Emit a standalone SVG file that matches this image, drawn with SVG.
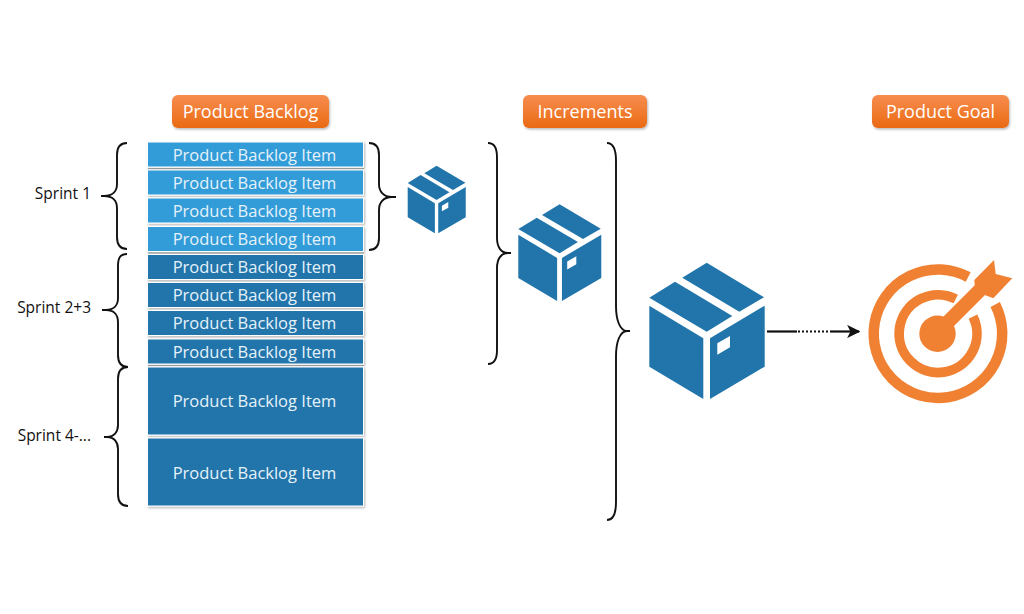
<svg xmlns="http://www.w3.org/2000/svg" width="1024" height="614" viewBox="0 0 1024 614">
<style>
.btn{stroke:none;fill:url(#orange);filter:url(#soft)}
.btxt{font:18px "Open Sans","Noto Sans",sans-serif;fill:#fff;text-anchor:middle}
.item{stroke:#fff;stroke-width:1;filter:url(#soft)}
.light{fill:#329cd8}
.dark{fill:#2175aa}
.itxt{font:16.500px "Open Sans","Noto Sans",sans-serif;fill:#e6f2fa;text-anchor:middle}
.lbl{font:15.500px "Open Sans","Noto Sans",sans-serif;fill:#111;text-anchor:end}
.brace{fill:none;stroke:#111;stroke-width:1.900}
.line{fill:none;stroke:#111;stroke-width:2.200}
.dot{fill:none;stroke:#111;stroke-width:2.200;stroke-dasharray:2 2}
.edge{fill:none;stroke:#9a9a9a;stroke-width:1.200}
.ring{fill:none;stroke:#f08133}
.tg{fill:#f08133}
</style>
<defs>
<linearGradient id="orange" x1="0" y1="0" x2="0" y2="1"><stop offset="0" stop-color="#f78d4f"/><stop offset="1" stop-color="#ea6a13"/></linearGradient>
<filter id="soft" x="-10%" y="-20%" width="120%" height="150%"><feDropShadow dx="1" dy="1.500" stdDeviation="1.200" flood-color="#000" flood-opacity="0.28"/></filter>
<marker id="head" viewBox="0 0 10 10" refX="9" refY="5" markerWidth="6" markerHeight="6" orient="auto" markerUnits="strokeWidth"><path d="M0 0L10 5L0 10L2.500 5Z" fill="#111"/></marker>
<g id="box" fill="#2175aa">
<path d="M57.400 0L114.700 34.600L90 49L33 15Z"/>
<path d="M25.700 19L83 53.300L57.400 69L0 35Z"/>
<path d="M0 43L54 75.600V136.300L0 104Z"/>
<path fill-rule="evenodd" d="M60.700 75.600L115.400 43V104L60.700 136.300ZM68 80.600V92L80.700 84.600V73.300Z"/>
</g>
</defs>

<g id="connectors">
<path class="brace" d="M127 143C120 143 117 147 117 155V184C117 191 113 196 104 196H101M127 249C120 249 117 245 117 237V208C117 201 113 196 104 196"/>
<path class="brace" d="M127 254C120 254 118 258 118 266V298C118 305 114 310 106 310H102M128 367C121 367 118 363 118 355V322C118 315 114 310 106 310"/>
<path class="brace" d="M128 367C121 367 118 371 118 379V425C118 432 114 437 107 437H104M128 506C121 506 118 502 118 494V449C118 442 114 437 107 437"/>
<path class="brace" d="M369 143C376 143 379 147 379 155V184C379 191 383 197 392 197H396M369 250C376 250 379 246 379 238V210C379 203 383 197 392 197"/>
<path class="brace" d="M488 143C494 143 497 147 497 157V238C497 247 501 253 508 253H511M488 364C494 364 497 360 497 350V268C497 259 501 253 508 253"/>
<path class="brace" d="M607 143C613 143 616 149 616 161V306C616 320 620 331 627 331H630M607 520C613 520 616 514 616 502V356C616 342 620 331 627 331"/>
<path class="line" d="M767 331.500H797"/>
<path class="dot" d="M798 331.500H830"/>
<path class="line" d="M830 331.500H859" marker-end="url(#head)"/>
</g>

<g id="btn-backlog"><rect class="btn" x="172" y="95" width="157" height="33" rx="6"/><text class="btxt" x="250.500" y="118">Product Backlog</text></g>
<g id="btn-increments"><rect class="btn" x="523" y="95" width="124" height="33" rx="6"/><text class="btxt" x="585" y="118">Increments</text></g>
<g id="btn-goal"><rect class="btn" x="872" y="95" width="137" height="33" rx="6"/><text class="btxt" x="940.500" y="118">Product Goal</text></g>

<g id="label-sprint1"><text class="lbl" x="91" y="199">Sprint 1</text></g>
<g id="label-sprint23"><text class="lbl" x="91" y="313">Sprint 2+3</text></g>
<g id="label-sprint4"><text class="lbl" x="91" y="441">Sprint 4-...</text></g>

<g id="item-1"><rect class="item light" x="147.500" y="142" width="216" height="25"/><path class="edge" d="M148 168.700H364"/><text class="itxt" x="254.500" y="160.500">Product Backlog Item</text></g>
<g id="item-2"><rect class="item light" x="147.500" y="170" width="216" height="25"/><text class="itxt" x="254.500" y="188.500">Product Backlog Item</text></g>
<g id="item-3"><rect class="item light" x="147.500" y="198" width="216" height="25"/><text class="itxt" x="254.500" y="216.500">Product Backlog Item</text></g>
<g id="item-4"><rect class="item light" x="147.500" y="226.500" width="216" height="25"/><path class="edge" d="M148 253H364"/><text class="itxt" x="254.500" y="244.500">Product Backlog Item</text></g>
<g id="item-5"><rect class="item dark" x="147.500" y="254.500" width="216" height="25"/><text class="itxt" x="254.500" y="273">Product Backlog Item</text></g>
<g id="item-6"><rect class="item dark" x="147.500" y="282.500" width="216" height="25"/><text class="itxt" x="254.500" y="301">Product Backlog Item</text></g>
<g id="item-7"><rect class="item dark" x="147.500" y="310.500" width="216" height="25"/><text class="itxt" x="254.500" y="329">Product Backlog Item</text></g>
<g id="item-8"><rect class="item dark" x="147.500" y="339" width="216" height="25"/><path class="edge" d="M148 365.500H364"/><text class="itxt" x="254.500" y="357.500">Product Backlog Item</text></g>
<g id="item-9"><rect class="item dark" x="147.500" y="367" width="216" height="68"/><text class="itxt" x="254.500" y="407">Product Backlog Item</text></g>
<g id="item-10"><rect class="item dark" x="147.500" y="438" width="216" height="68"/><text class="itxt" x="254.500" y="478.500">Product Backlog Item</text></g>

<g id="box-small"><use href="#box" transform="translate(407.700 165.700) scale(.503 .496)"/></g>
<g id="box-medium"><use href="#box" transform="translate(518.300 204.300) scale(.719 .709)"/></g>
<g id="box-large"><use href="#box" transform="translate(649.300 262.700)"/></g>

<g id="target">
<path class="ring" stroke-width="10.500" d="M995.200 304.500A64.250 64.250 0 1 1 968.200 277"/>
<path class="ring" stroke-width="9.700" d="M973 316.600A38.900 38.900 0 1 1 955.700 299"/>
<circle class="tg" cx="937.500" cy="333.700" r="18.200"/>
<path class="tg" d="M930 330L975 285L985 295L940 340Z"/>
<path class="tg" d="M974.300 280L994 260L995.700 274L1012.300 278.300L993.300 298.300L980 293.300L975 288Z"/>
</g>
</svg>
